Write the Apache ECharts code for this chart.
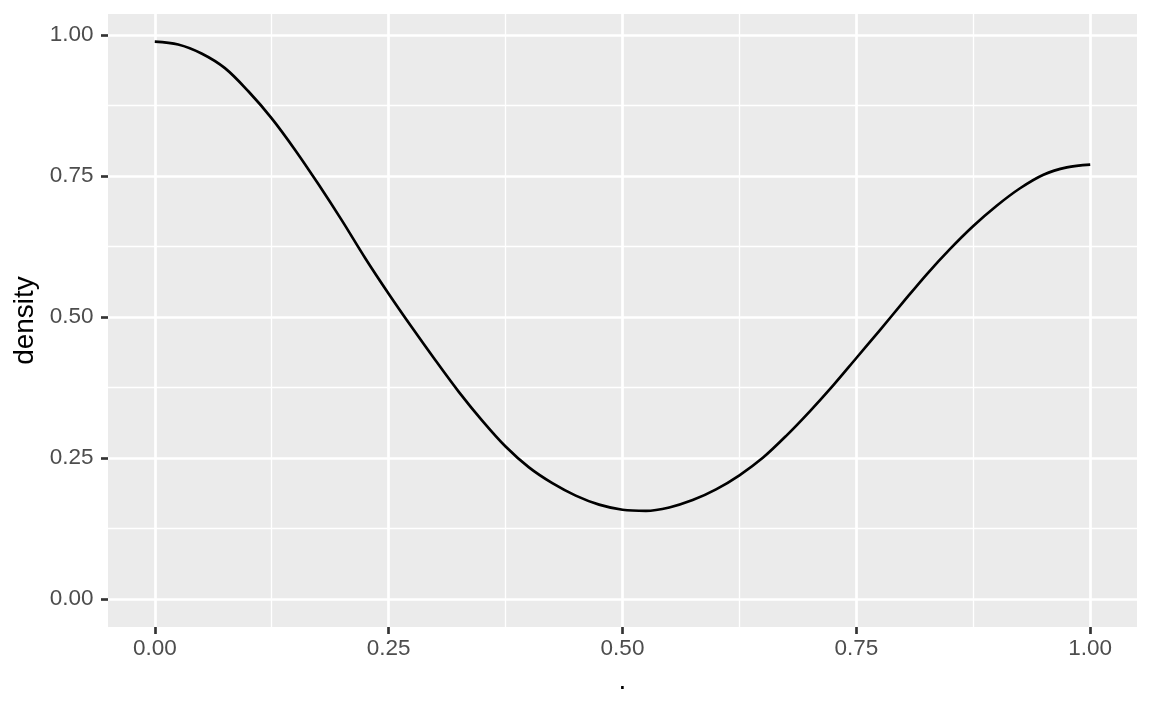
<!DOCTYPE html>
<html>
<head>
<meta charset="utf-8">
<script src="https://cdn.jsdelivr.net/npm/echarts@6/dist/echarts.min.js"></script>
<style>html,body{margin:0;padding:0;background:#fff}#c{width:1152px;height:711px}</style>
</head>
<body>
<div id="c"></div>
<script>
const xValues = [0.000,0.025,0.050,0.075,0.100,0.125,0.150,0.175,0.200,0.225,0.250,0.275,0.300,0.325,0.350,0.375,0.400,0.425,0.450,0.475,0.500,0.525,0.550,0.575,0.600,0.625,0.650,0.675,0.700,0.725,0.750,0.775,0.800,0.825,0.850,0.875,0.900,0.925,0.950,0.975,1.000];
const density = [0.988,0.983,0.967,0.941,0.900,0.852,0.796,0.735,0.671,0.604,0.541,0.481,0.423,0.367,0.316,0.270,0.233,0.205,0.183,0.167,0.158,0.156,0.162,0.175,0.194,0.219,0.250,0.289,0.332,0.378,0.427,0.476,0.526,0.575,0.620,0.661,0.697,0.728,0.752,0.765,0.770];
const majorTicks = [0, 0.25, 0.5, 0.75, 1];
const minorTicks = [0.125, 0.375, 0.625, 0.875];
const tickLabels = ['0.00', '0.25', '0.50', '0.75', '1.00'];
const xTitle = '.';
const yTitle = 'density';

const font = '"Liberation Sans", Arial, Helvetica, sans-serif';
const chart = echarts.init(document.getElementById('c'), null, {renderer: 'canvas'});
const fmt = v => tickLabels[majorTicks.indexOf(Math.round(v * 1000) / 1000)] ?? v.toFixed(2);

function axisPair(isX) {
  const base = {
    type: 'value', min: -0.05, max: isX ? 1.05 : 1.037,
    position: isX ? 'bottom' : 'left', offset: 0,
    axisLine: {show: false, onZero: false}
  };
  const major = Object.assign({}, base, {
    name: isX ? xTitle : yTitle,
    nameLocation: 'middle',
    nameGap: isX ? 40 : 69,
    nameTextStyle: {color: '#000', fontSize: 28, fontFamily: font},
    axisTick: {show: true, length: 7, lineStyle: {color: '#333333', width: 2.67}, customValues: majorTicks},
    axisLabel: {show: true, color: '#4D4D4D', fontSize: 22.5, fontFamily: font, margin: isX ? 10 : 14.5, customValues: majorTicks, formatter: fmt},
    splitLine: {show: true, lineStyle: {color: '#FFFFFF', width: 2.67}}
  });
  const minor = Object.assign({}, base, {
    axisTick: {show: false, customValues: minorTicks},
    axisLabel: {show: false, customValues: minorTicks},
    splitLine: {show: true, lineStyle: {color: '#FFFFFF', width: 1.33}}
  });
  return [minor, major];
}

const option = {
  animation: false,
  backgroundColor: '#FFFFFF',
  grid: {left: 108, right: 15, top: 14, bottom: 84, show: true, backgroundColor: '#EBEBEB', borderWidth: 0, containLabel: false, outerBoundsMode: 'none'},
  xAxis: axisPair(true),
  yAxis: axisPair(false),
  series: [{
    type: 'line',
    xAxisIndex: 1, yAxisIndex: 1,
    data: xValues.map((x, i) => [x, density[i]]),
    smooth: 0.33,
    showSymbol: false,
    lineStyle: {color: '#000000', width: 2.67, join: 'round', cap: 'butt'},
    silent: true
  }]
};
chart.setOption(option);
</script>
</body>
</html>
